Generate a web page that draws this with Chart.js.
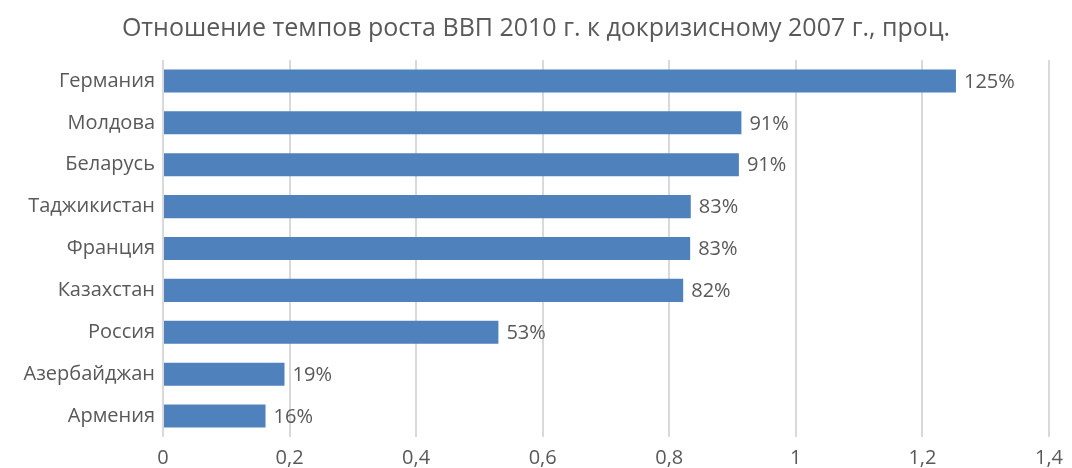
<!DOCTYPE html>
<html>
<head>
<meta charset="utf-8">
<script src="https://cdn.jsdelivr.net/npm/chart.js@4"></script>
<style>
  html, body { margin: 0; padding: 0; background: #fff; }
  #wrap { width: 1072px; height: 468px; }
</style>
</head>
<body>
<div id="wrap"><canvas id="chart"></canvas></div>
<script>
// data
const countries = ['Германия', 'Молдова', 'Беларусь', 'Таджикистан', 'Франция', 'Казахстан', 'Россия', 'Азербайджан', 'Армения'];
const growthRatio = [1.253, 0.914, 0.910, 0.834, 0.833, 0.822, 0.530, 0.192, 0.162];
const tickValues = [0, 0.2, 0.4, 0.6, 0.8, 1, 1.2, 1.4];

const textColor = '#595959';
const fontFamily = '"Open Sans", "DejaVu Sans", sans-serif';

// draws the percent label at the end of each bar
const barLabels = {
    id: 'barLabels',
    afterDatasetsDraw(chart) {
        const ctx = chart.ctx;
        const meta = chart.getDatasetMeta(0);
        ctx.save();
        ctx.fillStyle = textColor;
        ctx.font = '20px ' + fontFamily;
        ctx.textAlign = 'left';
        ctx.textBaseline = 'middle';
        meta.data.forEach((bar, i) => {
            const txt = Math.round(growthRatio[i] * 100) + '%';
            ctx.fillText(txt, bar.x + 8, bar.y + 1);
        });
        ctx.restore();
    }
};

new Chart(document.getElementById('chart').getContext('2d'), {
    type: 'bar',
    data: {
        labels: countries,
        datasets: [{
            data: growthRatio,
            backgroundColor: '#4f81bd',
            categoryPercentage: 1,
            barPercentage: 0.55
        }]
    },
    options: {
        indexAxis: 'y',
        responsive: true,
        maintainAspectRatio: false,
        animation: false,
        layout: { padding: { left: 20, right: 20, top: 0, bottom: 0 } },
        plugins: {
            legend: { display: false },
            tooltip: { enabled: false },
            title: {
                display: true,
                text: 'Отношение темпов роста ВВП 2010 г. к докризисному 2007 г., проц.',
                color: textColor,
                font: { family: fontFamily, size: 25, weight: 'normal' },
                padding: { top: 14, bottom: 16 }
            }
        },
        scales: {
            x: {
                min: 0,
                max: 1.4,
                afterBuildTicks(scale) {
                    scale.ticks = tickValues.map(v => ({ value: v }));
                },
                afterFit(scale) { scale.height = 31; },
                grid: { color: '#d9d9d9', lineWidth: 2, drawTicks: false },
                border: { display: false },
                ticks: {
                    color: textColor,
                    padding: 9,
                    font: { family: fontFamily, size: 20 },
                    callback: v => String(Math.round(v * 10) / 10).replace('.', ',')
                }
            },
            y: {
                afterFit(scale) { scale.width = 143; },
                grid: { display: false, drawTicks: false },
                border: { display: false },
                ticks: {
                    color: textColor,
                    padding: 8,
                    font: { family: fontFamily, size: 20 }
                }
            }
        }
    },
    plugins: [barLabels]
});
</script>
</body>
</html>
